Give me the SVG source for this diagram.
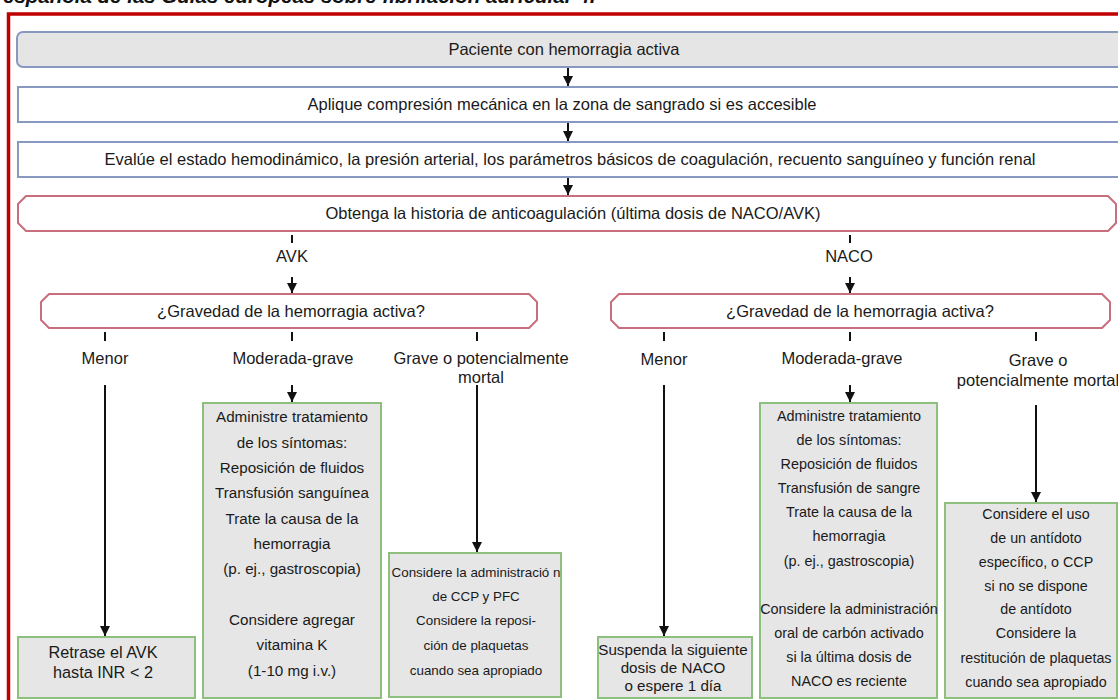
<svg xmlns="http://www.w3.org/2000/svg" width="1118" height="700" viewBox="0 0 1118 700">
  <defs>
    <marker id="head" markerUnits="userSpaceOnUse" markerWidth="10" markerHeight="10" refX="10" refY="5" orient="auto">
      <path d="M0,0 L10,5 L0,10 z" fill="#111"/>
    </marker>
    <style>
      text { font-family: "Liberation Sans", Arial, sans-serif; fill: #1a1a1a; text-anchor: middle; }
      .cap { font-weight: bold; font-style: italic; font-size: 20.5px; text-anchor: start; fill: #111; }
      .main { font-size: 16.5px; }
      .lbl { font-size: 16.5px; }
      .blue { fill: #ffffff; stroke: #8898c0; stroke-width: 2; }
      .blue-grey { fill: #e5e5e5; stroke: #8898c0; stroke-width: 2; }
      .pink { fill: #ffffff; stroke: #c86e7c; stroke-width: 2; stroke-linejoin: round; }
      .green { fill: #e6e6e6; stroke: #8cc07c; stroke-width: 2; }
      .conn line { stroke: #111; stroke-width: 2; }
      .conn line.arr { marker-end: url(#head); }
    </style>
  </defs>

  <rect x="0" y="0" width="1118" height="700" fill="#ffffff"/>

  <!-- caption line, running off the top edge -->
  <text class="cap" x="3" y="3">española de las Guías europeas sobre fibrilación auricular 4.</text>

  <!-- red frame -->
  <rect x="8.5" y="14" width="1130" height="700" fill="none" stroke="#c00000" stroke-width="3.5"/>

  <!-- top sequence -->
  <g id="n-paciente">
    <rect class="blue-grey" x="17" y="32" width="1120" height="35" rx="6"/>
    <text class="main" x="564" y="55">Paciente con hemorragia activa</text>
  </g>
  <g id="n-compresion">
    <rect class="blue" x="18" y="87" width="1120" height="35"/>
    <text class="main" x="562" y="110">Aplique compresión mecánica en la zona de sangrado si es accesible</text>
  </g>
  <g id="n-evalue">
    <rect class="blue" x="18" y="142" width="1120" height="35"/>
    <text class="main" x="570" y="165">Evalúe el estado hemodinámico, la presión arterial, los parámetros básicos de coagulación, recuento sanguíneo y función renal</text>
  </g>
  <g id="n-historia">
    <path class="pink" d="M26,196 H1108 L1116,204 V223 L1108,231 H26 L18,223 V204 z"/>
    <text class="main" x="573" y="219">Obtenga la historia de anticoagulación (última dosis de NACO/AVK)</text>
  </g>

  <!-- branch labels -->
  <g id="l-avk"><text class="lbl" x="292" y="262">AVK</text></g>
  <g id="l-naco"><text class="lbl" x="849" y="262">NACO</text></g>

  <!-- severity questions -->
  <g id="n-grav-avk">
    <path class="pink" d="M49,294 H529 L537,302 V320 L529,328 H49 L41,320 V302 z"/>
    <text class="main" x="291" y="317">¿Gravedad de la hemorragia activa?</text>
  </g>
  <g id="n-grav-naco">
    <path class="pink" d="M619,294 H1102 L1110,302 V320 L1102,328 H619 L611,320 V302 z"/>
    <text class="main" x="860" y="317">¿Gravedad de la hemorragia activa?</text>
  </g>

  <!-- severity labels -->
  <g id="l-avk-menor"><text class="lbl" x="105" y="364">Menor</text></g>
  <g id="l-avk-mod"><text class="lbl" x="293" y="364">Moderada-grave</text></g>
  <g id="l-avk-grave"><text class="lbl" x="481" y="364">Grave o potencialmente</text><text class="lbl" x="481" y="383">mortal</text></g>
  <g id="l-naco-menor"><text class="lbl" x="664" y="365">Menor</text></g>
  <g id="l-naco-mod"><text class="lbl" x="842" y="364">Moderada-grave</text></g>
  <g id="l-naco-grave"><text class="lbl" x="1038" y="366">Grave o</text><text class="lbl" x="1038" y="386">potencialmente mortal</text></g>

  <!-- AVK outcomes -->
  <g id="n-avk-menor">
    <rect class="green" x="18" y="637" width="177" height="61"/>
    <text style="font-size:16.3px" x="103" y="658">Retrase el AVK</text>
    <text style="font-size:16.3px" x="103" y="678">hasta INR &lt; 2</text>
  </g>
  <g id="n-avk-mod" style="font-size:15.2px">
    <rect class="green" x="203" y="403" width="178" height="295"/>
    <text x="292" y="422">Administre tratamiento</text>
    <text x="292" y="448">de los síntomas:</text>
    <text x="292" y="473">Reposición de fluidos</text>
    <text x="292" y="498">Transfusión sanguínea</text>
    <text x="292" y="524">Trate la causa de la</text>
    <text x="292" y="549">hemorragia</text>
    <text x="292" y="574">(p. ej., gastroscopia)</text>
    <text x="292" y="625">Considere agregar</text>
    <text x="292" y="650">vitamina K</text>
    <text x="292" y="676">(1-10 mg i.v.)</text>
  </g>
  <g id="n-avk-grave" style="font-size:13.4px">
    <rect class="green" x="389" y="553" width="172" height="144"/>
    <text x="476" y="577">Considere la administració n</text>
    <text x="476" y="601">de CCP y PFC</text>
    <text x="476" y="625">Considere la reposi-</text>
    <text x="476" y="650">ción de plaquetas</text>
    <text x="476" y="675">cuando sea apropiado</text>
  </g>

  <!-- NACO outcomes -->
  <g id="n-naco-menor" style="font-size:15.2px">
    <rect class="green" x="598" y="637" width="154" height="61"/>
    <text x="673" y="655">Suspenda la siguiente</text>
    <text x="673" y="673">dosis de NACO</text>
    <text x="673" y="691">o espere 1 día</text>
  </g>
  <g id="n-naco-mod" style="font-size:14.4px">
    <rect class="green" x="760" y="403" width="177" height="295"/>
    <text x="849" y="421">Administre tratamiento</text>
    <text x="849" y="445">de los síntomas:</text>
    <text x="849" y="469">Reposición de fluidos</text>
    <text x="849" y="493">Transfusión de sangre</text>
    <text x="849" y="517">Trate la causa de la</text>
    <text x="849" y="541">hemorragia</text>
    <text x="849" y="566">(p. ej., gastroscopia)</text>
    <text x="849" y="614">Considere la administración</text>
    <text x="849" y="638">oral de carbón activado</text>
    <text x="849" y="662">si la última dosis de</text>
    <text x="849" y="686">NACO es reciente</text>
  </g>
  <g id="n-naco-grave" style="font-size:14.3px">
    <rect class="green" x="945" y="503" width="172" height="195"/>
    <text x="1036" y="519">Considere el uso</text>
    <text x="1036" y="543">de un antídoto</text>
    <text x="1036" y="567">específico, o CCP</text>
    <text x="1036" y="591">si no se dispone</text>
    <text x="1036" y="614">de antídoto</text>
    <text x="1036" y="638">Considere la</text>
    <text x="1036" y="663">restitución de plaquetas</text>
    <text x="1036" y="687">cuando sea apropiado</text>
  </g>

  <!-- connectors -->
  <g id="connectors" class="conn">
    <line class="arr" x1="568" y1="68" x2="568" y2="86"/>
    <line class="arr" x1="568" y1="123" x2="568" y2="141"/>
    <line class="arr" x1="568" y1="178" x2="568" y2="195"/>
    <line x1="292" y1="235" x2="292" y2="243"/>
    <line class="arr" x1="292" y1="277" x2="292" y2="293"/>
    <line x1="850" y1="235" x2="850" y2="243"/>
    <line class="arr" x1="850" y1="277" x2="850" y2="293"/>
    <line x1="105" y1="332" x2="105" y2="341"/>
    <line x1="292" y1="332" x2="292" y2="341"/>
    <line x1="477" y1="332" x2="477" y2="341"/>
    <line x1="664" y1="332" x2="664" y2="341"/>
    <line x1="850" y1="332" x2="850" y2="341"/>
    <line x1="1036" y1="332" x2="1036" y2="341"/>
    <line class="arr" x1="105" y1="385" x2="105" y2="636"/>
    <line class="arr" x1="292" y1="385" x2="292" y2="402"/>
    <line class="arr" x1="477" y1="385" x2="477" y2="552"/>
    <line class="arr" x1="664" y1="385" x2="664" y2="636"/>
    <line class="arr" x1="850" y1="385" x2="850" y2="402"/>
    <line class="arr" x1="1036" y1="405" x2="1036" y2="502"/>
  </g>
</svg>
